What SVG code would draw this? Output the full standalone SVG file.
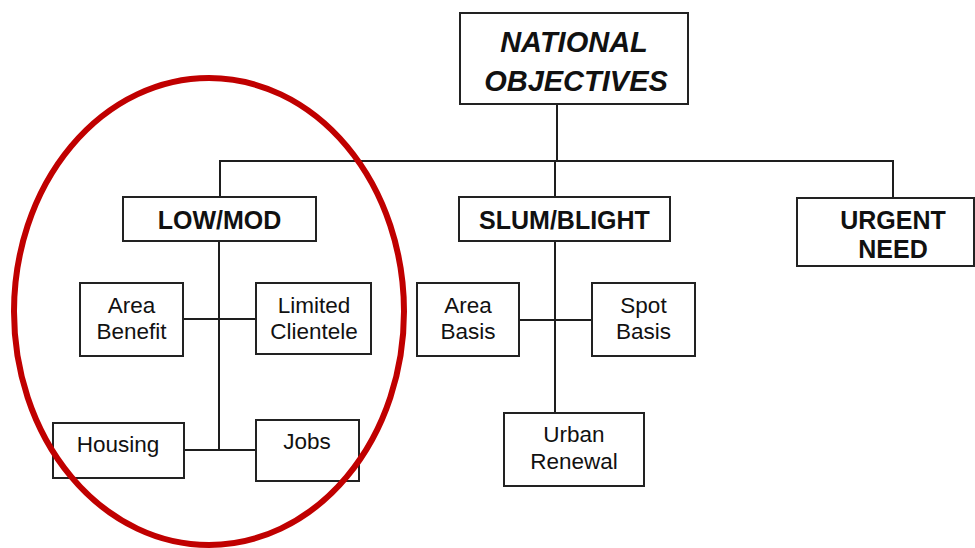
<svg xmlns="http://www.w3.org/2000/svg" width="975" height="548" viewBox="0 0 975 548">
  <style>
    .box { fill: #ffffff; stroke: #222222; stroke-width: 2; }
    .link { fill: none; stroke: #1e1e1e; stroke-width: 2; }
    .t { font-family: "Liberation Sans", Arial, sans-serif; fill: #111111; text-anchor: middle; }
    .top { font-size: 29px; font-weight: bold; font-style: italic; }
    .head { font-size: 25px; font-weight: bold; }
    .leaf { font-size: 22.5px; }
    .ring { fill: none; stroke: #c00000; stroke-width: 6; }
  </style>
  <rect width="975" height="548" fill="#ffffff"/>

  <!-- connectors -->
  <g id="connectors">
    <path class="link" d="M557 104 V161 M220 197 V161 H893 V198 M555 161 V197"/>
    <path class="link" d="M219 241 V450 M183 319 H256 M184 450 H256"/>
    <path class="link" d="M555 241 V413 M519 320 H592"/>
  </g>

  <g id="national-objectives">
    <rect class="box" x="460" y="13" width="228" height="91"/>
    <text class="t top" x="574" y="52">NATIONAL</text>
    <text class="t top" x="576" y="91">OBJECTIVES</text>
  </g>

  <g id="low-mod">
    <rect class="box" x="123" y="197" width="193" height="44"/>
    <text class="t head" x="219.5" y="229">LOW/MOD</text>
  </g>

  <g id="slum-blight">
    <rect class="box" x="459" y="197" width="211" height="44"/>
    <text class="t head" x="564.5" y="229">SLUM/BLIGHT</text>
  </g>

  <g id="urgent-need">
    <rect class="box" x="797" y="198" width="177" height="68"/>
    <text class="t head" x="893" y="229">URGENT</text>
    <text class="t head" x="893" y="258">NEED</text>
  </g>

  <g id="area-benefit">
    <rect class="box" x="80" y="283" width="103" height="73"/>
    <text class="t leaf" x="131.5" y="313">Area</text>
    <text class="t leaf" x="131.5" y="339">Benefit</text>
  </g>

  <g id="limited-clientele">
    <rect class="box" x="256" y="283" width="115" height="71"/>
    <text class="t leaf" x="314" y="313">Limited</text>
    <text class="t leaf" x="314" y="339">Clientele</text>
  </g>

  <g id="housing">
    <rect class="box" x="53" y="423" width="131" height="55"/>
    <text class="t leaf" x="118" y="452">Housing</text>
  </g>

  <g id="jobs">
    <rect class="box" x="256" y="420" width="103" height="61"/>
    <text class="t leaf" x="307" y="449">Jobs</text>
  </g>

  <g id="area-basis">
    <rect class="box" x="417" y="283" width="102" height="73"/>
    <text class="t leaf" x="468" y="313">Area</text>
    <text class="t leaf" x="468" y="339">Basis</text>
  </g>

  <g id="spot-basis">
    <rect class="box" x="592" y="283" width="103" height="73"/>
    <text class="t leaf" x="643.5" y="313">Spot</text>
    <text class="t leaf" x="643.5" y="339">Basis</text>
  </g>

  <g id="urban-renewal">
    <rect class="box" x="504" y="413" width="140" height="73"/>
    <text class="t leaf" x="574" y="442">Urban</text>
    <text class="t leaf" x="574" y="469">Renewal</text>
  </g>

  <!-- highlight ring around the LOW/MOD branch -->
  <ellipse class="ring" cx="209" cy="311.5" rx="195" ry="233.5"/>
</svg>
